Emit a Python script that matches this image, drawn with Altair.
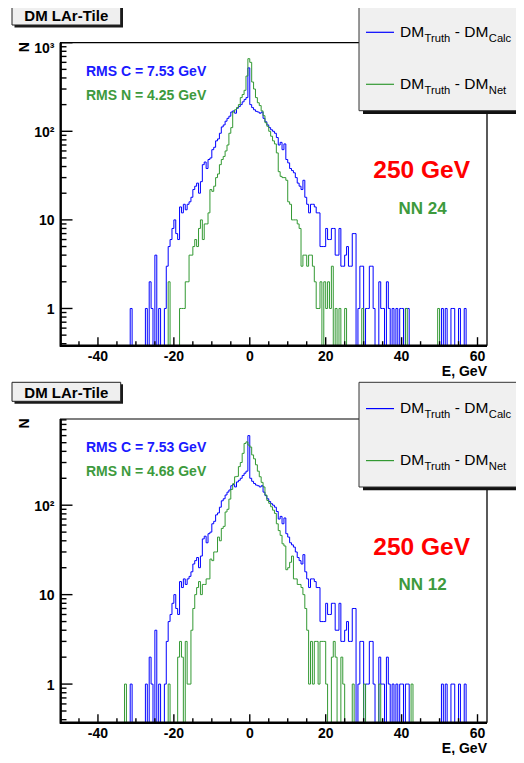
import altair as alt
import pandas as pd
import numpy as np

FONT = "Liberation Sans"

# ---------------- histogram data (0.5 GeV bins, -50 .. 62.5 GeV) ----------------
BIN_LO, BIN_HI, BIN_W = -50.0, 62.5, 0.5

# DM_Truth - DM_Calc (blue), bins starting at -32.0 GeV
calc_start = -32.0
calc_counts = [
    0, 1, 0, 0, 0, 0, 0, 0, 0, 1,
    0, 2, 1, 0, 4, 0, 1, 0, 0, 1,
    3, 5, 6, 8, 10, 7, 6, 14, 12, 15,
    13, 15, 16, 18, 22, 24, 26, 20, 27, 42,
    45, 38, 48, 50, 62, 66, 78, 82, 95, 112,
    118, 130, 140, 148, 165, 170, 160, 182, 190, 200,
    215, 228, 240, 520, 200, 185, 175, 168, 165, 160,
    165, 140, 128, 118, 110, 104, 100, 95, 85, 70,
    75, 62, 72, 48, 44, 38, 36, 34, 30, 26,
    24, 22, 28, 18, 15, 12, 15, 15, 14, 12,
    12, 5, 5, 5, 8, 6, 6, 8, 8, 4,
    4, 8, 3, 3, 4, 5, 3, 3, 7, 7,
    0, 1, 3, 3, 0, 1, 1, 3, 3, 1,
    0, 0, 2, 1, 1, 0, 2, 1, 0, 1,
    0, 1, 0, 1, 1, 0, 1, 1, 0, 0,
    0, 0, 0, 0, 0, 0, 0, 0, 0, 0,
    0, 0, 0, 0, 0, 1, 0, 1, 0, 0,
    1, 1, 0, 0, 1, 0, 0, 1, 0, 0,
]
calc_peak_edge = -0.5
calc_peak_bottom = 600

# DM_Truth - DM_Net, NN 24 (green, top panel), bins starting at -22.0 GeV
net24_start = -22.0
net24_counts = [
    0, 2, 0, 0, 0, 0, 0, 1, 1, 1,
    2, 2, 4, 4, 5, 6, 5, 8, 10, 6,
    9, 9, 12, 22, 21, 24, 30, 33, 42, 48,
    52, 60, 70, 95, 110, 165, 175, 185, 200, 240,
    260, 290, 420, 660, 600, 360, 300, 240, 210, 195,
    170, 150, 125, 114, 100, 88, 78, 72, 57, 35,
    31, 30, 30, 28, 16, 15, 10, 10, 10, 9,
    8, 3, 4, 4, 3, 4, 4, 3, 2, 1,
    1, 2, 0, 2, 1, 2, 1, 3, 0, 1,
    0, 1, 0, 0, 1, 0, 0, 0, 0, 0,
    0, 0, 0, 1, 0, 0, 0, 0, 0, 0,
    0, 0, 0, 0, 0, 0, 0, 0, 0, 0,
    0, 0, 0, 0, 0, 0, 1, 0, 0, 0,
    0, 0, 0, 0, 0, 0, 0, 0, 0, 0,
    0, 0, 0, 1,
]

# DM_Truth - DM_Net, NN 12 (green, bottom panel), bins starting at -33.5 GeV
net12_start = -33.5
net12_counts = [
    0, 1, 0, 0, 0, 0, 0, 0, 0, 0,
    0, 0, 0, 0, 0, 0, 0, 0, 0, 0,
    0, 0, 0, 0, 1, 0, 0, 0, 0, 2,
    3, 2, 0, 3, 1, 1, 4, 7, 10, 12,
    14, 10, 13, 13, 15, 15, 25, 24, 30, 30,
    44, 40, 55, 58, 84, 90, 117, 150, 174, 208,
    210, 270, 300, 380, 490, 510, 470, 447, 365, 330,
    283, 240, 208, 180, 160, 130, 113, 105, 96, 88,
    81, 62, 52, 46, 37, 35, 19, 20, 23, 27,
    15, 15, 13, 13, 12, 10, 7, 4, 1, 3,
    1, 3, 3, 1, 3, 3, 3, 1, 0, 0,
    2, 3, 2, 0, 0, 2, 1, 0, 0, 0,
    0, 1, 0, 0, 0, 0, 0, 1, 0, 0,
    0, 0, 0, 0, 0, 1, 0, 0, 0, 0,
    0, 0, 0, 0, 0, 0, 0, 0, 0, 0,
    0, 0, 1, 0,
]

# axis tick values and labels
x_major = [-40, -20, 0, 20, 40, 60]
x_major_labels = ["-40", "-20", "0", "20", "40", "60"]
x_minor = [-45, -35, -30, -25, -15, -10, -5, 5, 10, 15, 25, 30, 35, 45, 50, 55]
y_major = [1, 10, 100, 1000]
y_major_labels = ["1", "10", "10²", "10³"]

# panel texts
legend_subs = ["Calc", "Net"]
rms_c = "RMS C = 7.53 GeV"
rms_n = ["RMS N = 4.25 GeV", "RMS N = 4.68 GeV"]
energy_text = "250 GeV"
nn_text = ["NN 24", "NN 12"]

BLUE = "#0000ff"
GREEN = "#339933"
BLUE_T = "#1a1aff"
GREEN_T = "#3d9a3d"
RED = "#ff0000"

N_BINS = int(round((BIN_HI - BIN_LO) / BIN_W))


def full(start, counts):
    arr = np.zeros(N_BINS)
    i0 = int(round((start - BIN_LO) / BIN_W))
    arr[i0:i0 + len(counts)] = counts
    return arr


def hist_df(arr, floor):
    edges = BIN_LO + BIN_W * np.arange(N_BINS + 1)
    vals = np.append(arr, arr[-1])
    vals = np.where(vals > 0, vals, floor)
    return pd.DataFrame({"E": edges, "N": vals})


calc_top = full(calc_start, calc_counts)
calc_bot = calc_top.copy()
calc_bot[int(round((calc_peak_edge - BIN_LO) / BIN_W))] = calc_peak_bottom
net_top = full(net24_start, net24_counts)
net_bot = full(net12_start, net12_counts)

one = pd.DataFrame({"k": [0]})

W, H = 508, 747
X0, X1 = 52.0, 479.0
x_scale = alt.Scale(domain=[BIN_LO, BIN_HI], range=[X0, X1], nice=False, zero=False)


def txt(text, x, y, size, color="black", weight="bold", align="left", angle=None, baseline="alphabetic"):
    kw = dict(text=text, fontSize=size, fontWeight=weight, color=color, align=align,
              baseline=baseline, font=FONT)
    if angle is not None:
        kw["angle"] = angle
    return alt.Chart(one).mark_text(**kw).encode(x=alt.value(x), y=alt.value(y))


def box(x1, x2, y1, y2, fill, stroke=None, sw=1.0):
    kw = dict(fill=fill)
    if stroke is not None:
        kw.update(stroke=stroke, strokeWidth=sw)
    return alt.Chart(one).mark_rect(**kw).encode(
        x=alt.value(x1), x2=alt.value(x2), y=alt.value(y1), y2=alt.value(y2))


def seg(x1, x2, y1, y2, color="black", sw=1.0):
    return alt.Chart(one).mark_rule(color=color, strokeWidth=sw).encode(
        x=alt.value(x1), x2=alt.value(x2), y=alt.value(y1), y2=alt.value(y2))


def panel(idx, calc_arr, net_arr, ymin, ymax, ytop, ybot, dy):
    ys = alt.Scale(type="log", domain=[ymin, ymax], range=[ybot, ytop], nice=False, clamp=True)
    X = lambda f: alt.X(f, scale=x_scale, axis=None)
    Y = lambda f: alt.Y(f, scale=ys, axis=None)

    layers = []
    # histograms
    layers.append(alt.Chart(hist_df(calc_arr, ymin)).mark_line(
        interpolate="step-after", color=BLUE, strokeWidth=1).encode(x=X("E:Q"), y=Y("N:Q")))
    layers.append(alt.Chart(hist_df(net_arr, ymin)).mark_line(
        interpolate="step-after", color=GREEN, strokeWidth=1).encode(x=X("E:Q"), y=Y("N:Q")))

    # frame
    layers.append(seg(X0, X1, ytop, ytop, sw=1.2))
    layers.append(seg(X1, X1, ytop, ybot, sw=1.3))
    layers.append(seg(X0 + 0.7, X0 + 0.7, ytop, ybot + 1, sw=2.4))
    layers.append(seg(X0, X1, ybot, ybot, sw=2.6))

    # x ticks (inside)
    layers.append(alt.Chart(pd.DataFrame({"v": x_major})).mark_rule(color="black", strokeWidth=1.4).encode(
        x=X("v:Q"), y=alt.value(ybot), y2=alt.value(ybot - 8.5)))
    layers.append(alt.Chart(pd.DataFrame({"v": x_minor})).mark_rule(color="black", strokeWidth=1.4).encode(
        x=X("v:Q"), y=alt.value(ybot), y2=alt.value(ybot - 4.5)))

    # y ticks (inside)
    ymaj = [v for v in y_major if ymin <= v <= ymax * 1.001]
    ymin_t = [m * 10.0 ** k for k in range(-1, 3) for m in range(2, 10) if ymin <= m * 10.0 ** k <= ymax]
    layers.append(alt.Chart(pd.DataFrame({"v": ymaj})).mark_rule(color="black", strokeWidth=1.4).encode(
        y=Y("v:Q"), x=alt.value(X0), x2=alt.value(X0 + 12.5)))
    layers.append(alt.Chart(pd.DataFrame({"v": ymin_t})).mark_rule(color="black", strokeWidth=1.4).encode(
        y=Y("v:Q"), x=alt.value(X0), x2=alt.value(X0 + 6.5)))

    # y labels
    lab = pd.DataFrame({"v": y_major, "lab": y_major_labels})
    lab_in = lab[(lab.v >= ymin) & (lab.v < ymax * 0.9)]
    lab_top = lab[(lab.v >= ymax * 0.9) & (lab.v <= ymax * 1.001)]
    layers.append(alt.Chart(lab_in).mark_text(
        align="right", baseline="middle", dy=1.5, fontSize=14, fontWeight="bold", font=FONT, color="black"
    ).encode(y=Y("v:Q"), x=alt.value(46.5), text="lab:N"))
    if len(lab_top):
        layers.append(alt.Chart(lab_top).mark_text(
            align="right", baseline="middle", dy=6.5, fontSize=14, fontWeight="bold", font=FONT, color="black"
        ).encode(y=Y("v:Q"), x=alt.value(46.5), text="lab:N"))

    # x labels
    layers.append(alt.Chart(pd.DataFrame({"v": x_major, "lab": x_major_labels})).mark_text(
        align="center", baseline="alphabetic", fontSize=14, fontWeight="bold", font=FONT, color="black"
    ).encode(x=X("v:Q"), y=alt.value(ybot + 15.3), text="lab:N"))

    # axis titles
    layers.append(txt("N", 17.3, ytop + 4.5, 14, angle=270, align="center", baseline="middle"))
    e_base = ybot + 30.3
    if e_base > H - 1:
        layers.append(txt("E, GeV", X1, H - 3.0, 11.5, align="right"))
    else:
        layers.append(txt("E, GeV", X1, e_base, 14, align="right"))

    # annotations
    layers.append(txt(rms_c, 78, 68 + dy, 14, color=BLUE_T))
    layers.append(txt(rms_n[idx], 78, 92 + dy, 14, color=GREEN_T))
    layers.append(txt(energy_text, 413.7, 170.3 + dy, 24.5, color=RED, align="center"))
    layers.append(txt(nn_text[idx], 414.5, 206 + dy, 17, color=GREEN_T, align="center"))

    # title box
    layers.append(box(6.5, 115, 0 + dy, 19.5 + dy, "#1a1a1a"))
    layers.append(box(4, 112.7, -2 + dy, 17 + dy, "#efefef", stroke="#222222", sw=1))
    layers.append(txt("DM LAr-Tile", 58.3, 13.3 + dy, 15, align="center"))

    # legend box
    layers.append(box(355, 530, 100 + dy, 106 + dy, "#111111"))
    layers.append(box(351, 525, -2 + dy, 102.7 + dy, "#f0f0f0", stroke="#333333", sw=1))
    for j, (col, sub) in enumerate(zip([BLUE, GREEN], legend_subs)):
        ly = 24.3 + dy + 52 * j
        layers.append(seg(358, 386, ly, ly, color=col, sw=1.2))
        layers.append(txt("DM", 392.0, ly + 4.4, 15.5, weight="normal"))
        layers.append(txt("Truth", 416.6, ly + 9.4, 11.2, weight="normal"))
        layers.append(txt("-", 449.4, ly + 4.4, 15.5, weight="normal", align="center"))
        layers.append(txt("DM", 456.2, ly + 4.4, 15.5, weight="normal"))
        layers.append(txt(sub, 480.8, ly + 9.4, 11.2, weight="normal"))

    return alt.layer(*layers)


top = panel(0, calc_top, net_top, 0.38, 1000, 34.7, 337.7, 0)
bottom = panel(1, calc_bot, net_bot, 0.37, 920, 411.0, 714.7, 376.3)

chart = alt.layer(top, bottom).resolve_scale(y="independent").properties(
    width=W, height=H, padding=0, autosize=alt.AutoSizeParams(type="none"),
    background="white",
).configure_view(stroke=None)

chart.save("out.html", embed_options={"renderer": "svg", "actions": False})
